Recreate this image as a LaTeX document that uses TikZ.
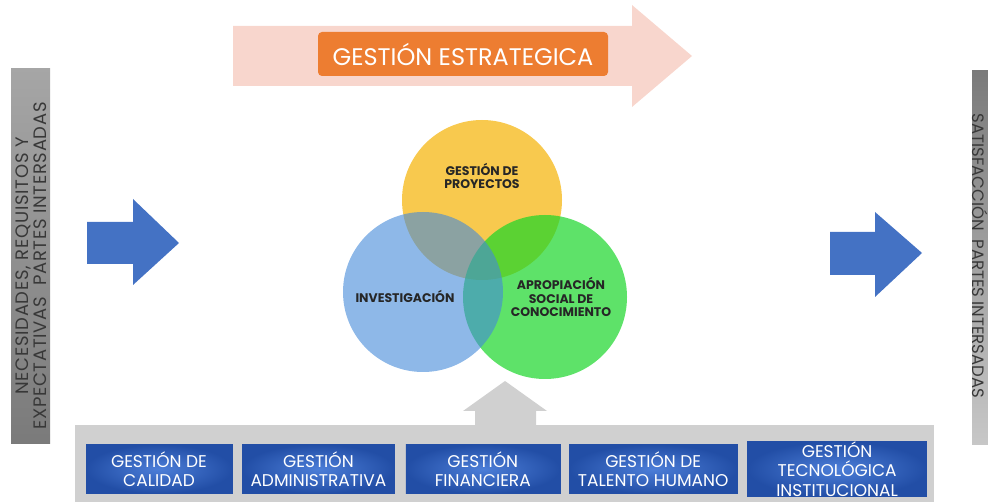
\documentclass[tikz,border=0pt]{standalone}
\usepackage{fontspec}
\setmainfont{Poppins}
\usetikzlibrary{positioning}
\definecolor{flecha}{HTML}{4472C4}
\definecolor{rosa}{HTML}{F8D6CD}
\definecolor{naranja}{HTML}{ED7D31}
\definecolor{gris}{HTML}{D0D0D0}
\definecolor{azulclaro}{HTML}{4C7ED8}
\definecolor{azuloscuro}{HTML}{224EA6}
\definecolor{amarillo}{HTML}{F5B713}
\definecolor{celeste}{HTML}{4389D9}
\definecolor{verde}{HTML}{1AD629}
\tikzset{
  gestion/.style={rectangle,draw=azuloscuro,inner color=azulclaro,outer color=azuloscuro,
    text=white,align=center,font=\fontsize{17}{19.5}\selectfont,minimum height=49pt,inner sep=0pt},
  esfera/.style={circle,minimum size=160pt,inner sep=0pt},
  etiqueta/.style={align=center,text=black!85,font=\bfseries\fontsize{12.5}{13.5}\selectfont},
  lateral/.style={align=center,text=black!78,font=\fontsize{18}{17.5}\selectfont},
}
\begin{document}
\begin{tikzpicture}[x=1pt,y=-1pt]
\useasboundingbox (0,0) rectangle (988,502);
% barras laterales
\shade[top color=black!35,bottom color=black!52] (11,69) rectangle (50,443);
\shade[top color=black!52,bottom color=black!22] (972,71) rectangle (992,444);
\node (entrada) [lateral,rotate=90,font=\fontsize{18}{17.5}\selectfont\addfontfeatures{LetterSpace=4}] at (31,266) {NECESIDADES, REQUISITOS Y\\EXPECTATIVAS\ \ PARTES INTERSADAS};
\node (salida) [lateral,rotate=-90,font=\fontsize{16.5}{17}\selectfont,inner sep=0pt] at (980.5,256) {SATISFACCIÓN\ \ PARTES INTERSADAS};
% flechas
\fill[rosa] (233,26) -- (632,26) -- (632,5) -- (692,56) -- (632,107) -- (632,86) -- (233,86) -- cycle;
\fill[flecha] (87,222) -- (133,222) -- (133,199) -- (179,243) -- (133,285) -- (133,264) -- (87,264) -- cycle;
\fill[flecha] (830,232) -- (875,232) -- (875,212) -- (922,253) -- (875,297) -- (875,275) -- (830,275) -- cycle;
\node (estrategica) [rectangle,rounded corners=4pt,fill=naranja,text=white,minimum width=290pt,
  minimum height=44pt,font=\fontsize{24}{26}\selectfont] at (463,54) {GESTIÓN ESTRATEGICA};
% circulos
\node (proyectos) [esfera,fill=amarillo,fill opacity=0.75] at (482,200) {};
\node (apropiacion) [esfera,fill=verde,fill opacity=0.7,minimum size=164pt] at (545,297) {};
\node (investigacion) [esfera,fill=celeste,fill opacity=0.6] at (423,292) {};
\node (tproyectos) [etiqueta] at (482,176) {GESTIÓN DE\\PROYECTOS};
\node (tinvestigacion) [etiqueta] at (405,296) {INVESTIGACIÓN};
\node (tapropiacion) [etiqueta] at (561,297) {APROPIACIÓN\\SOCIAL DE\\CONOCIMIENTO};
% base
\fill[gris] (75,425) rectangle (934,502);
\fill[gris] (475,426) -- (475,411) -- (463,411) -- (505,381) -- (547,411) -- (536,411) -- (536,426) -- cycle;
\node (calidad) [gestion,minimum width=146pt] at (159,469) {GESTIÓN DE\\CALIDAD};
\node (administrativa) [gestion,minimum width=152pt,right=10pt of calidad] {GESTIÓN\\ADMINISTRATIVA};
\node (financiera) [gestion,minimum width=154pt,right=11pt of administrativa] {GESTIÓN\\FINANCIERA};
\node (talento) [gestion,minimum width=168pt,right=9pt of financiera] {GESTIÓN DE\\TALENTO HUMANO};
\node (tecnologica) [gestion,minimum width=179pt,right=10pt of talento] {GESTIÓN\\TECNOLÓGICA\\INSTITUCIONAL};
\end{tikzpicture}
\end{document}
